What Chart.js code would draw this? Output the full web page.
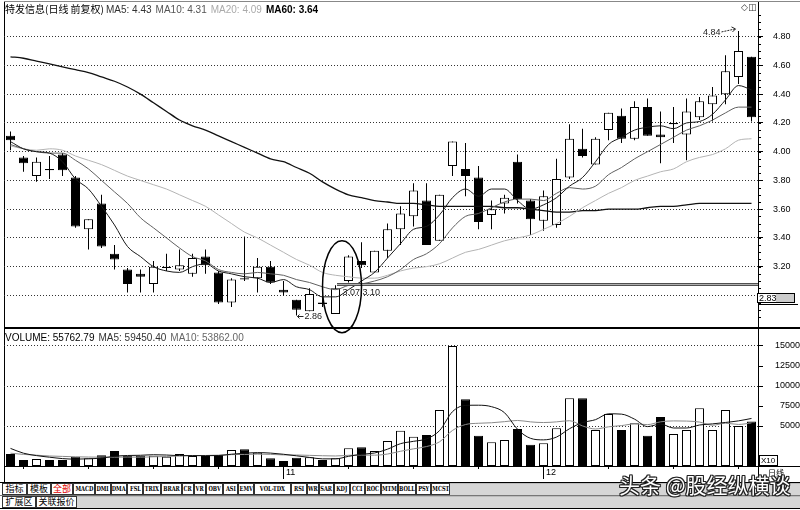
<!DOCTYPE html>
<html>
<head>
<meta charset="utf-8">
<script src="https://cdn.jsdelivr.net/npm/chart.js@4.4.0/dist/chart.umd.min.js"></script>
<style>
  html, body { margin: 0; padding: 0; background: #fff; }
  body { width: 800px; height: 510px; position: relative; overflow: hidden; font-family: "Liberation Sans", Arial, sans-serif; }
  #price { position: absolute; left: 0; top: 0; z-index: 3; }
  #vol { position: absolute; left: 0; top: 320px; z-index: 2; }
  .ln { position: absolute; background: #000; z-index: 1; }
  .hdr { position: absolute; font-size: 10px; line-height: 12px; white-space: nowrap; z-index: 5; }
  .hdr span { margin-right: 4px; }
  .cjk { font-family: "Noto Sans CJK SC", sans-serif; }
  .row { position: absolute; left: 2px; width: 798px; display: flex; z-index: 4; overflow: hidden; }
  .tab { flex: 0 0 auto; display: flex; justify-content: center; box-sizing: border-box; height: 12px; border: 1px solid #333; background: #fff;
         font: bold 7px "DejaVu Serif", serif; line-height: 10px; overflow: hidden; white-space: nowrap; }
  .tab span { flex: 0 0 auto; display: block; transform: scaleX(0.72); transform-origin: center; }
  .tab.zh { font: 9px "Noto Sans CJK SC", sans-serif; line-height: 10px; }
  .tab.zh span { transform: none; }
  .fill { flex: 1 1 auto; background: #d6d6d6; height: 12px; border-top: 1px solid #bbb; box-sizing: border-box; }
  .box { position: absolute; box-sizing: border-box; border: 1px solid #000; font-size: 8px; line-height: 8px; z-index: 5; }
  .mark { position: absolute; z-index: 6; white-space: nowrap; }
</style>
</head>
<body>
<canvas id="price" width="800" height="340"></canvas>
<canvas id="vol" width="800" height="162"></canvas>

<!-- frame -->
<div class="ln" style="left:4px;top:1px;width:1px;height:481px;"></div>
<div class="ln" style="left:758px;top:1px;width:1px;height:481px;"></div>
<div class="ln" style="left:4px;top:1px;width:796px;height:1px;background:#888;"></div>
<div class="ln" style="left:4px;top:327px;width:796px;height:2px;"></div>
<div class="ln" style="left:758px;top:304px;width:40px;height:1px;"></div>
<div class="ln" style="left:4px;top:466px;width:796px;height:1px;"></div>
<div class="ln" style="left:0px;top:482px;width:800px;height:1px;"></div>
<div class="ln" style="left:0px;top:495px;width:800px;height:1px;background:#777;"></div>
<div class="ln" style="left:0px;top:508px;width:800px;height:1px;"></div>

<div class="hdr" style="left:5px;top:3px;">
  <span class="cjk" style="color:#000;margin-right:2px;">特发信息(日线 前复权)</span><span style="color:#333;">MA5: 4.43</span><span style="color:#555;">MA10: 4.31</span><span style="color:#aaa;">MA20: 4.09</span><span style="color:#000;font-weight:bold;">MA60: 3.64</span>
</div>
<div class="mark" style="left:741px;top:2px;font:9px 'DejaVu Sans';color:#333;">◇◫</div>
<div class="box" style="left:757px;top:293px;width:38px;height:10px;background:linear-gradient(90deg,#fff 50%,#ccc 50%);font-size:9px;padding-left:1px;">2.83</div>

<div class="hdr" style="left:5px;top:332px;">
  <span style="color:#000;">VOLUME: 55762.79</span><span style="color:#333;">MA5: 59450.40</span><span style="color:#666;">MA10: 53862.00</span>
</div>
<div class="box" style="left:759px;top:455px;width:19px;height:11px;font-size:8px;padding:1px 0 0 1px;">X10</div>
<div class="mark cjk" style="left:768px;top:467px;font-size:8px;color:#000;">日线</div>

<div class="row" style="top:483px;" id="row1"></div>
<div class="row" style="top:496px;" id="row2"></div>

<div class="mark cjk" style="left:619px;top:472px;font-size:21px;line-height:24px;color:#fff;z-index:9;
  text-shadow:-1px -1px 0 #222,1px -1px 0 #222,-1px 1px 0 #222,1px 1px 0 #222,0 1px 0 #222,0 -1px 0 #222,1px 0 0 #222,-1px 0 0 #222;">头条 @股经纵横谈</div>

<script>
// ---- data ----
const dayLabels = [
  '', '', '', '', '', '', '', '', '', '',
  '', '', '', '', '', '', '', '', '', '',
  '', '11', '', '', '', '', '', '', '', '',
  '', '', '', '', '', '', '', '', '', '',
  '', '12', '', '', '', '', '', '', '', '',
  '', '', '', '', '', '', '', ''
];

const opens = [4.11, 3.96, 3.83, 3.88, 3.98, 3.82, 3.46, 3.64, 3.29, 3.18,
               3.15, 3.08, 3.19, 3.18, 3.15, 3.27, 3.16, 2.95, 3.12, 3.12,
               3.20, 3.04, 2.97, 2.89, 2.95, 2.87, 3.10, 3.24, 3.16, 3.31,
               3.46, 3.55, 3.66, 3.38, 3.90, 3.88, 3.82, 3.56, 3.64, 3.93,
               3.66, 3.52, 3.49, 3.82, 4.02, 3.91, 4.15, 4.25, 4.09, 4.31,
               4.12, 4.19, 4.12, 4.24, 4.33, 4.40, 4.52, 4.66];
const highs = [4.14, 3.97, 3.96, 3.97, 3.99, 3.83, 3.53, 3.70, 3.35, 3.19,
               3.18, 3.24, 3.29, 3.32, 3.29, 3.32, 3.17, 3.12, 3.41, 3.26,
               3.24, 3.10, 2.97, 3.05, 2.99, 3.07, 3.28, 3.37, 3.31, 3.50,
               3.62, 3.78, 3.78, 3.70, 4.07, 4.06, 3.90, 3.66, 3.70, 3.98,
               3.67, 3.73, 3.95, 4.19, 4.16, 4.10, 4.27, 4.30, 4.35, 4.37,
               4.28, 4.31, 4.37, 4.38, 4.45, 4.67, 4.84, 4.66];
const lows = [4.01, 3.86, 3.79, 3.81, 3.83, 3.47, 3.32, 3.33, 3.18, 3.02,
              3.02, 3.02, 3.17, 3.17, 3.13, 3.15, 2.94, 2.92, 3.10, 3.02,
              3.08, 3.00, 2.86, 2.89, 2.92, 2.87, 3.09, 3.19, 3.16, 3.26,
              3.35, 3.48, 3.35, 3.38, 3.83, 3.69, 3.46, 3.46, 3.57, 3.64,
              3.42, 3.45, 3.47, 3.81, 3.96, 3.91, 4.08, 4.06, 4.08, 4.11,
              3.92, 4.06, 3.94, 4.22, 4.21, 4.33, 4.47, 4.21];
const closes = [4.08, 3.92, 3.93, 3.87, 3.87, 3.48, 3.53, 3.34, 3.25, 3.08,
                3.13, 3.20, 3.20, 3.21, 3.26, 3.21, 2.95, 3.11, 3.11, 3.20,
                3.09, 3.02, 2.90, 3.01, 2.94, 3.05, 3.27, 3.21, 3.31, 3.46,
                3.57, 3.73, 3.35, 3.70, 4.07, 3.83, 3.51, 3.60, 3.68, 3.67,
                3.53, 3.69, 3.81, 4.09, 3.97, 4.09, 4.27, 4.09, 4.31, 4.11,
                4.10, 4.20, 4.28, 4.35, 4.39, 4.56, 4.70, 4.24];

const ma5 = [4.07, 4.02, 4.00, 3.99, 3.93, 3.81, 3.74, 3.62, 3.49, 3.34,
             3.27, 3.20, 3.17, 3.16, 3.20, 3.22, 3.17, 3.15, 3.13, 3.12,
             3.09, 3.11, 3.06, 3.04, 2.99, 2.99, 3.04, 3.10, 3.16, 3.26,
             3.36, 3.46, 3.48, 3.56, 3.68, 3.74, 3.69, 3.74, 3.74, 3.66,
             3.60, 3.63, 3.68, 3.76, 3.82, 3.93, 4.05, 4.10, 4.15, 4.17,
             4.18, 4.16, 4.20, 4.21, 4.26, 4.36, 4.46, 4.43];
const ma10 = [4.05, 4.02, 4.00, 3.99, 3.99, 3.94, 3.88, 3.80, 3.72, 3.64,
              3.54, 3.47, 3.40, 3.33, 3.27, 3.24, 3.18, 3.16, 3.15, 3.16,
              3.15, 3.14, 3.11, 3.09, 3.06, 3.04, 3.07, 3.08, 3.10, 3.13,
              3.18, 3.25, 3.29, 3.36, 3.47, 3.55, 3.57, 3.61, 3.65, 3.67,
              3.67, 3.66, 3.71, 3.75, 3.74, 3.76, 3.84, 3.89, 3.95, 4.00,
              4.05, 4.10, 4.15, 4.18, 4.22, 4.27, 4.31, 4.31];
const ma20 = [4.04, 4.02, 4.01, 4.02, 4.01, 3.97, 3.94, 3.91, 3.87, 3.83,
              3.80, 3.77, 3.74, 3.70, 3.66, 3.62, 3.56, 3.50, 3.44, 3.40,
              3.35, 3.30, 3.25, 3.21, 3.16, 3.14, 3.13, 3.12, 3.12, 3.14,
              3.17, 3.19, 3.20, 3.22, 3.26, 3.30, 3.32, 3.35, 3.38, 3.40,
              3.42, 3.46, 3.50, 3.55, 3.61, 3.66, 3.71, 3.75, 3.80, 3.83,
              3.86, 3.88, 3.93, 3.96, 3.98, 4.02, 4.08, 4.09];
const ma60 = [4.66, 4.65, 4.63, 4.61, 4.59, 4.57, 4.55, 4.52, 4.49, 4.45,
              4.40, 4.34, 4.28, 4.22, 4.18, 4.15, 4.11, 4.07, 4.03, 3.99,
              3.95, 3.93, 3.89, 3.85, 3.79, 3.74, 3.70, 3.68, 3.66, 3.65,
              3.64, 3.64, 3.63, 3.62, 3.62, 3.62, 3.62, 3.62, 3.61, 3.61,
              3.60, 3.59, 3.58, 3.58, 3.59, 3.59, 3.60, 3.60, 3.60, 3.61,
              3.62, 3.62, 3.63, 3.64, 3.64, 3.64, 3.64, 3.64];

// volume in units of x10
const volumes = [1500, 750, 875, 750, 750, 1160, 960, 1330, 1875, 1250,
                 1290, 1290, 1160, 1500, 1250, 1250, 1375, 2000, 2080, 1660,
                 960, 625, 1040, 1080, 750, 960, 2210, 2330, 1875, 3125,
                 4420, 3670, 3875, 7000, 15000, 8330, 3790, 2960, 3250, 4625,
                 2670, 2830, 4710, 8460, 8460, 4500, 6500, 4500, 5330, 3790,
                 6125, 4000, 4500, 7210, 4500, 7000, 5000, 5576];
const volMa5 = [2200, 1600, 1300, 1100, 925, 857, 899, 990, 1215, 1315,
                1341, 1407, 1373, 1298, 1298, 1290, 1307, 1475, 1591, 1673,
                1615, 1465, 1273, 1073, 891, 891, 1208, 1466, 1625, 2100,
                2792, 3084, 3393, 4418, 6793, 7575, 7599, 7416, 6666, 4591,
                3459, 3267, 3617, 4659, 5426, 5792, 6526, 6484, 5858, 4924,
                5249, 4749, 4749, 5125, 5267, 5442, 5642, 5945];
const volMa10 = [1600, 1450, 1350, 1250, 1200, 1150, 1120, 1100, 1100, 1120,
                 1099, 1153, 1182, 1257, 1307, 1316, 1357, 1424, 1445, 1486,
                 1453, 1386, 1374, 1332, 1282, 1253, 1337, 1370, 1349, 1496,
                 1842, 2146, 2430, 3022, 4447, 5184, 5342, 5405, 5542, 5692,
                 5517, 5433, 5517, 5663, 5009, 4626, 4897, 5051, 5259, 5175,
                 5521, 5638, 5617, 5492, 5096, 5346, 5196, 5386];

const priceGrid = [3.00, 3.20, 3.40, 3.60, 3.80, 4.00, 4.20, 4.40, 4.60, 4.80];
const priceLabels = ['', '3.20', '3.40', '3.60', '3.80', '4.00', '4.20', '4.40', '4.60', '4.80'];
const volTicks = [5000, 7500, 10000, 12500, 15000];
const volLabels = ['5000', '7500', '10000', '12500', '15000'];

// annotations
const supportLevel = 3.08;
const supportFrom = 25;
const lowIdx = 22, lowText = '2.86';
const highIdx = 56, highText = '4.84';
const circledIdx = 25, circledText = '3.07 3.10';

// ---- tabs ----
const tabs1 = [['指标', 25, 1], ['模板', 24, 1], ['全部', 22, 1], ['MACD', 22], ['DMI', 16], ['DMA', 16], ['FSL', 16],
  ['TRIX', 18], ['BRAR', 21], ['CR', 12], ['VR', 12], ['OBV', 17], ['ASI', 15], ['EMV', 16], ['VOL-TDX', 37],
  ['RSI', 16], ['WR', 12], ['SAR', 15], ['KDJ', 16], ['CCI', 15], ['ROC', 16], ['MTM', 17], ['BOLL', 18], ['PSY', 15], ['MCST', 19]];
const tabs2 = [['扩展区', 34, 1], ['关联报价', 41, 1]];
function buildRow(el, items) {
  items.forEach(([t, w, zh]) => {
    const d = document.createElement('div');
    d.className = 'tab' + (zh ? ' zh' : '');
    d.style.width = w + 'px';
    if (t === '全部') d.style.color = '#e00000';
    const s = document.createElement('span');
    s.textContent = t;
    d.appendChild(s);
    el.appendChild(d);
  });
  const f = document.createElement('div');
  f.className = 'fill';
  el.appendChild(f);
}
buildRow(document.getElementById('row1'), tabs1);
buildRow(document.getElementById('row2'), tabs2);

// ---- charts ----
const isUp = i => closes[i] >= opens[i];
const candleFill = ctx => (isUp(ctx.dataIndex) ? '#ffffff' : '#000000');
const tickFont = { family: 'Liberation Sans', size: 9 };

const annotate = {
  id: 'annotate',
  afterDatasetsDraw(chart) {
    const { ctx, chartArea, scales: { x, y } } = chart;
    ctx.save();
    // horizontal support band
    const sy = Math.round(y.getPixelForValue(supportLevel));
    const sx = Math.round(x.getPixelForValue(supportFrom)) + 1;
    ctx.fillStyle = '#505050';
    ctx.fillRect(sx, sy - 1, chartArea.right - sx, 3);
    ctx.fillStyle = '#b0b0b0';
    ctx.fillRect(sx, sy, chartArea.right - sx, 1);

    ctx.font = '9px "Liberation Sans"';
    ctx.fillStyle = '#222';
    ctx.strokeStyle = '#222';
    ctx.lineWidth = 1;
    ctx.textBaseline = 'middle';

    // lowest low
    const lx = x.getPixelForValue(lowIdx), ly = Math.round(y.getPixelForValue(lows[lowIdx])) + 0.5;
    ctx.beginPath();
    ctx.moveTo(lx + 1, ly); ctx.lineTo(lx + 7, ly);
    ctx.moveTo(lx + 1, ly); ctx.lineTo(lx + 3, ly - 2);
    ctx.moveTo(lx + 1, ly); ctx.lineTo(lx + 3, ly + 2);
    ctx.stroke();
    ctx.textAlign = 'left';
    ctx.fillText(lowText, lx + 8, ly);

    // circled candle text
    const cx = (x.getPixelForValue(circledIdx) + x.getPixelForValue(circledIdx + 1)) / 2;
    ctx.fillText(circledText, x.getPixelForValue(circledIdx) + 7, sy + 9);

    // highest high
    const hx = x.getPixelForValue(highIdx), hy = y.getPixelForValue(highs[highIdx]);
    ctx.textAlign = 'right';
    ctx.fillText(highText, hx - 18, hy + 2);
    ctx.setLineDash([2, 1]);
    ctx.beginPath();
    ctx.moveTo(hx - 17, hy + 1); ctx.lineTo(hx - 3, hy - 2);
    ctx.stroke();
    ctx.setLineDash([]);
    ctx.beginPath();
    ctx.moveTo(hx - 3, hy - 2); ctx.lineTo(hx - 7, hy - 4);
    ctx.moveTo(hx - 3, hy - 2); ctx.lineTo(hx - 6, hy + 1);
    ctx.stroke();

    // ellipse round the turning candles
    const cy = y.getPixelForValue((lows[circledIdx] + highs[circledIdx + 1]) / 2) + 2;
    ctx.lineWidth = 1.5;
    ctx.strokeStyle = '#000';
    ctx.beginPath();
    ctx.ellipse(cx, cy, 19.5, 46, 0, 0, Math.PI * 2);
    ctx.stroke();

    // minor ticks on price axis
    ctx.lineWidth = 1;
    ctx.strokeStyle = '#000';
    ctx.beginPath();
    for (let v = 2.85; v <= 4.95; v += 0.05) {
      const py = Math.round(y.getPixelForValue(v)) + 0.5;
      ctx.moveTo(chartArea.right, py); ctx.lineTo(chartArea.right + 3, py);
    }
    ctx.stroke();
    ctx.restore();
  }
};

new Chart(document.getElementById('price'), {
  type: 'bar',
  data: {
    labels: dayLabels,
    datasets: [
      { type: 'line', data: ma5, borderColor: '#1a1a1a', borderWidth: 1, pointRadius: 0, cubicInterpolationMode: 'monotone', order: 0 },
      { type: 'line', data: ma10, borderColor: '#606060', borderWidth: 1, pointRadius: 0, cubicInterpolationMode: 'monotone', order: 0 },
      { type: 'line', data: ma20, borderColor: '#b4b4b4', borderWidth: 1, pointRadius: 0, cubicInterpolationMode: 'monotone', order: 0 },
      { type: 'line', data: ma60, borderColor: '#111', borderWidth: 1.3, pointRadius: 0, cubicInterpolationMode: 'monotone', order: 0 },
      { data: opens.map((o, i) => [o, closes[i]]), backgroundColor: candleFill, borderColor: '#000', borderWidth: 1,
        borderSkipped: false, barThickness: 9, grouped: false, inflateAmount: 0, order: 1 },
      { data: lows.map((l, i) => [l, highs[i]]), backgroundColor: '#000', borderWidth: 0,
        barThickness: 1, grouped: false, inflateAmount: 0, order: 2 }
    ]
  },
  options: {
    responsive: false, animation: false, events: [],
    layout: { padding: { left: 4, right: 0, top: 5, bottom: 15 } },
    plugins: { legend: { display: false }, tooltip: { enabled: false } },
    scales: {
      x: { display: false, offset: true },
      y: {
        position: 'right', min: 2.797, max: 4.948,
        afterFit: s => { s.width = 42; },
        afterBuildTicks: s => { s.ticks = priceGrid.map(v => ({ value: v })); },
        grid: { color: '#333', lineWidth: 1, tickLength: 5, tickBorderDash: [],
                tickColor: ctx => (ctx.tick && ctx.tick.value > 3.1 ? '#000' : 'transparent') },
        border: { display: false, dash: [1, 2] },
        ticks: { padding: 10, color: '#000', font: tickFont, callback: (v, i) => priceLabels[i] }
      }
    }
  },
  plugins: [annotate]
});

new Chart(document.getElementById('vol'), {
  type: 'bar',
  data: {
    labels: dayLabels,
    datasets: [
      { type: 'line', data: volMa5, borderColor: '#111', borderWidth: 1, pointRadius: 0, cubicInterpolationMode: 'monotone', order: 0 },
      { type: 'line', data: volMa10, borderColor: '#8a8a8a', borderWidth: 1, pointRadius: 0, cubicInterpolationMode: 'monotone', order: 0 },
      { data: volumes, backgroundColor: candleFill, borderColor: '#000', borderWidth: 1,
        borderSkipped: false, barThickness: 9, inflateAmount: 0, order: 1 }
    ]
  },
  options: {
    responsive: false, animation: false, events: [],
    layout: { padding: { left: 4, right: 0, top: 9, bottom: 0 } },
    plugins: { legend: { display: false }, tooltip: { enabled: false } },
    scales: {
      x: {
        offset: true,
        afterFit: s => { s.height = 16; },
        grid: { offset: false, drawOnChartArea: false, tickLength: 13, tickWidth: 1,
                tickColor: ctx => (ctx.index % 5 === 1 ? '#000' : 'transparent'),
                tickBorderDash: ctx => (dayLabels[ctx.index] ? [] : [3, 20]) },
        border: { display: false },
        ticks: { autoSkip: false, maxRotation: 0, minRotation: 0, align: 'start', padding: -12, color: '#000', font: tickFont,
                 callback: (v, i) => (dayLabels[i] ? ' ' + dayLabels[i] : '') }
      },
      y: {
        position: 'right', min: 0, max: 17125,
        afterFit: s => { s.width = 42; },
        afterBuildTicks: s => { s.ticks = volTicks.map(v => ({ value: v })); },
        grid: { color: ctx => (ctx.tick && ctx.tick.value % 5000 === 0 ? '#333' : 'transparent'),
                tickLength: 5, tickBorderDash: [], tickColor: '#000' },
        border: { display: false, dash: [1, 2] },
        ticks: { padding: 2, crossAlign: 'far', color: '#000', font: tickFont, callback: (v, i) => volLabels[i] }
      }
    }
  }
});
</script>
</body>
</html>
